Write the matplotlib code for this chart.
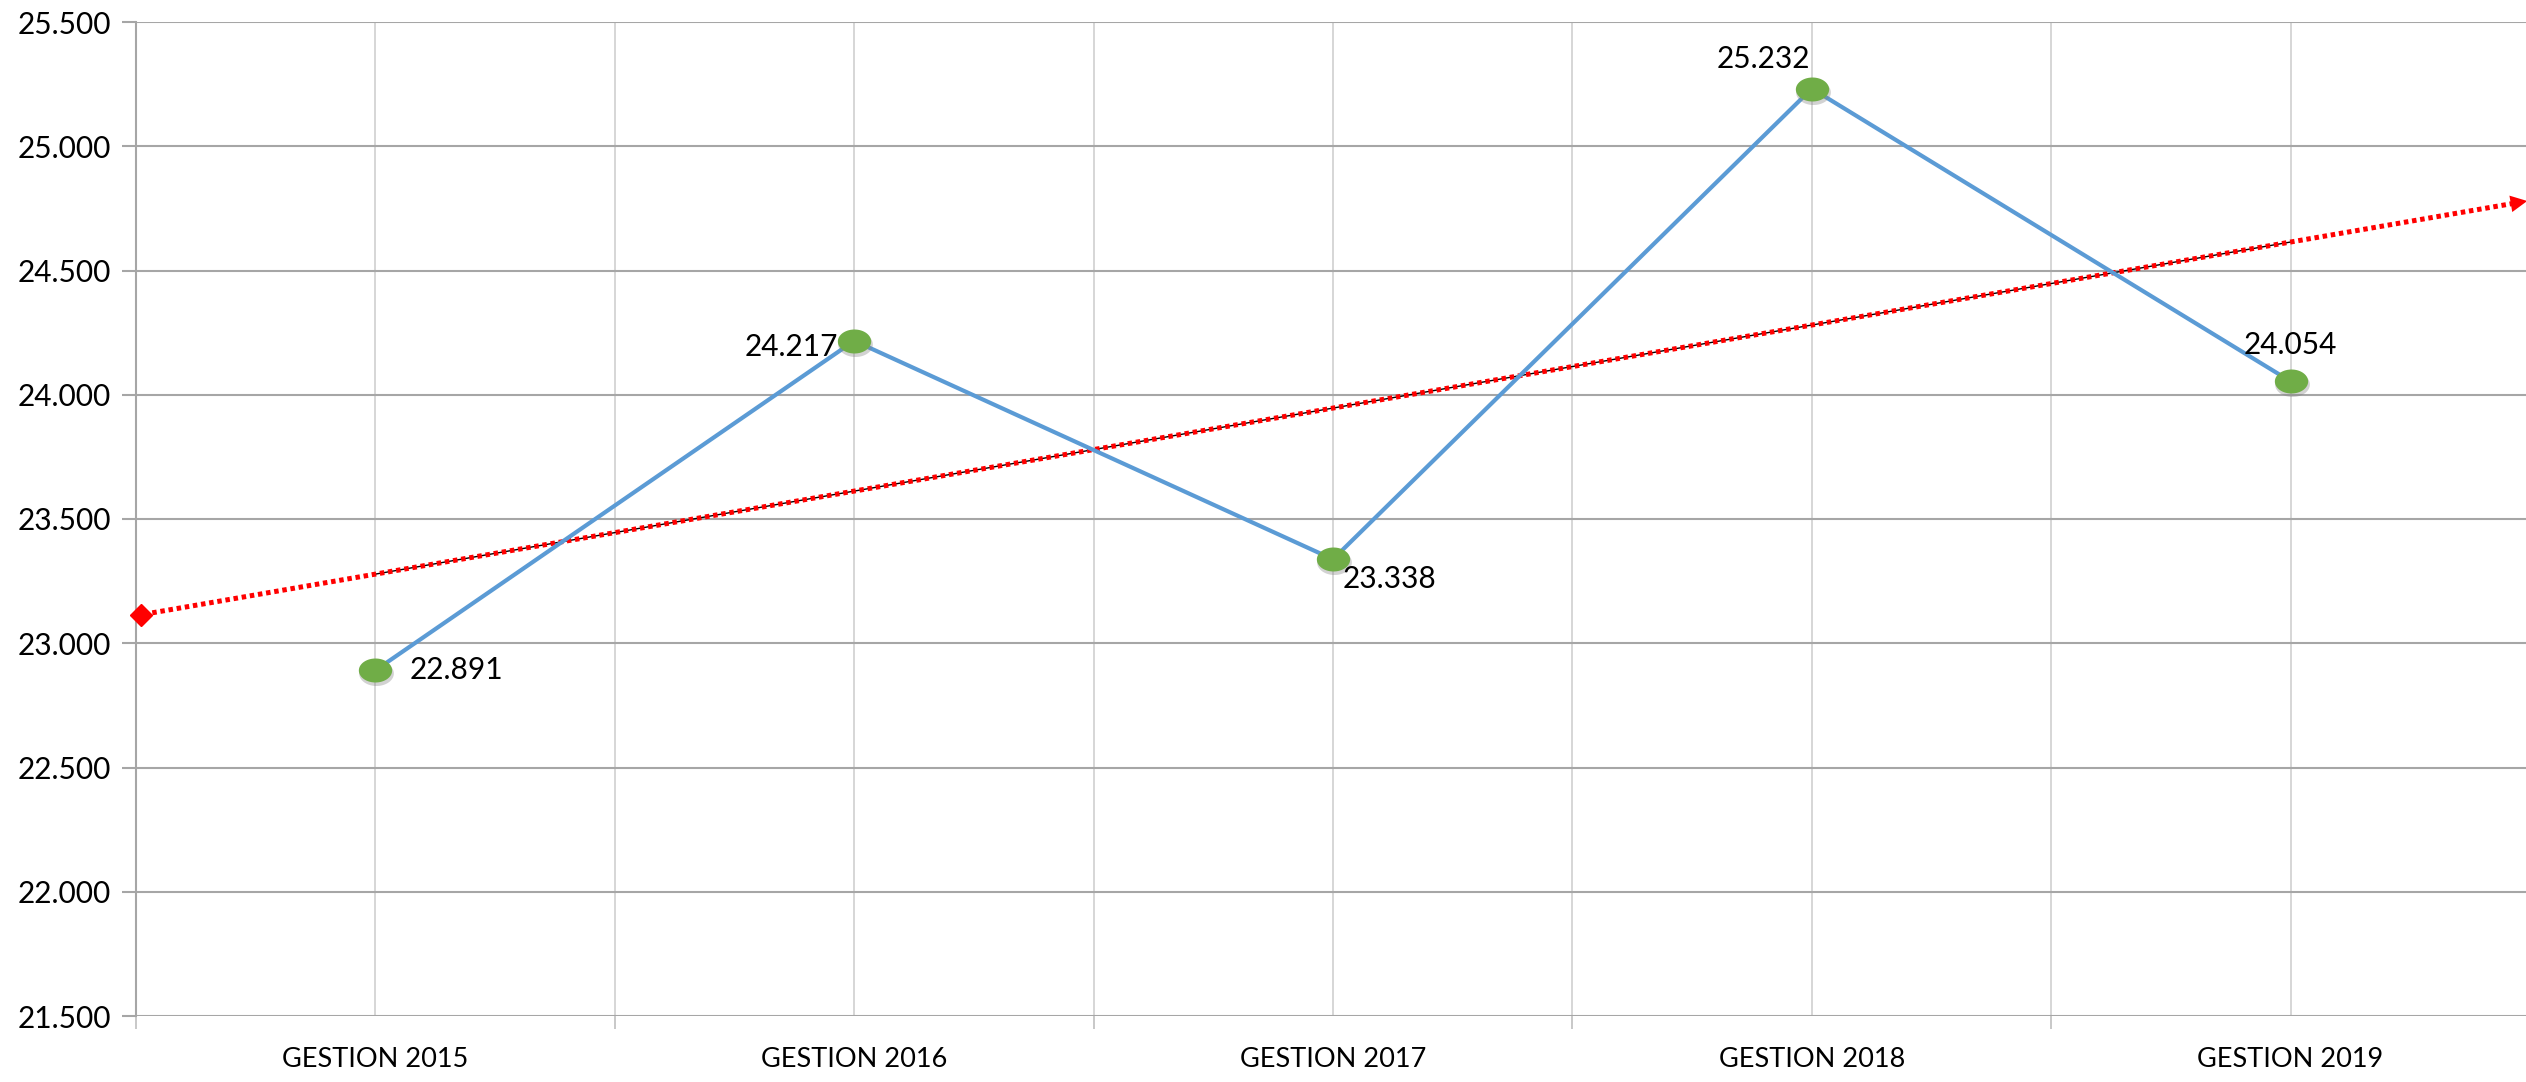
import numpy as np
import matplotlib
matplotlib.use('Agg')
import matplotlib.pyplot as plt
from matplotlib.path import Path
import matplotlib.transforms as mtransforms

# === Data ===
categories = ['GESTION 2015', 'GESTION 2016', 'GESTION 2017', 'GESTION 2018', 'GESTION 2019']
values = [22891, 24217, 23338, 25232, 24054]
value_labels = ['22.891', '24.217', '23.338', '25.232', '24.054']
y_ticks = [21500, 22000, 22500, 23000, 23500, 24000, 24500, 25000, 25500]
y_tick_labels = ['21.500', '22.000', '22.500', '23.000', '23.500', '24.000', '24.500', '25.000', '25.500']

# label offsets in pixels (dx, dy) and alignment
label_pos = [(34, 0, 'left', 'center'),
             (-16, -6, 'right', 'center'),
             (10, -20, 'left', 'center'),
             (-2, 30, 'right', 'center'),
             (0, 36, 'center', 'center')]

plt.rcParams['font.family'] = ['Lato', 'DejaVu Sans']

W, H = 2526, 1082
fig = plt.figure(figsize=(W / 100, H / 100), dpi=100)
left, right, bottom, top = 136, 2530, 1082 - 1016, 1082 - 22
ax = fig.add_axes([left / W, bottom / H, (right - left) / W, (top - bottom) / H])

x = np.arange(1, len(values) + 1)

# grid
ax.set_xlim(0.5, len(values) + 0.5)
ax.set_ylim(21500, 25500)
ax.set_xticks(x)
ax.set_xticklabels(categories, fontsize=19.5)
ax.set_xticks(np.arange(0.5, len(values) + 1, 1.0), minor=True)
ax.set_yticks(y_ticks)
ax.set_yticklabels(y_tick_labels, fontsize=21.5)
ax.tick_params(axis='x', which='major', length=0, pad=22)
ax.tick_params(axis='x', which='minor', length=9, color='#bfbfbf', width=1.2)
ax.tick_params(axis='y', length=10, color='#a6a6a6', width=1.5, pad=8)
ax.grid(axis='x', which='both', color='#d0d0d0', linewidth=1.2, zorder=0)
ax.grid(axis='y', which='major', color='#a6a6a6', linewidth=1.5, zorder=0)
for s in ['top', 'right', 'bottom']:
    ax.spines[s].set_visible(False)
ax.spines['left'].set_color('#a6a6a6')
ax.spines['left'].set_linewidth(1.5)
ax.set_axisbelow(True)

# trend (linear fit)
m, b = np.polyfit(x, values, 1)
ax.plot(x[[0, -1]], m * x[[0, -1]] + b, color='black', linewidth=1.0, zorder=3)
xe = np.array([0.5, len(values) + 0.47])
ax.plot(xe, m * xe + b, color='red', linewidth=3.6, linestyle=(0, (0.9, 0.75)), zorder=4, clip_on=False)
ax.plot(xe[0] + 0.01, m * (xe[0] + 0.01) + b, marker='D', color='red', markersize=11, zorder=5, clip_on=False)
ax.annotate('', xy=(xe[1] + 0.03, m * (xe[1] + 0.03) + b), xytext=(xe[1] - 0.05, m * (xe[1] - 0.05) + b),
            arrowprops=dict(arrowstyle='-|>', color='red', mutation_scale=30, lw=0), annotation_clip=False)

# main series
ax.plot(x, values, color='#5b9bd5', linewidth=3.0, zorder=6)
t = np.linspace(0, 2 * np.pi, 60)
ellipse = Path(np.column_stack([np.cos(t), 0.72 * np.sin(t)]))
shadow = mtransforms.offset_copy(ax.transData, fig=fig, x=1, y=-3, units='dots')
ax.plot(x, values, linestyle='none', marker=ellipse, markersize=25, color='#7f7f7f',
        alpha=0.35, markeredgewidth=0, transform=shadow, zorder=6)
ax.plot(x, values, linestyle='none', marker=ellipse, markersize=24, color='#70ad47',
        markeredgewidth=0, zorder=7)

for xi, v, lab, (dx, dy, ha, va) in zip(x, values, value_labels, label_pos):
    ax.annotate(lab, (xi, v), xytext=(dx, dy), textcoords='offset pixels',
                ha=ha, va=va, fontsize=21.5, color='black', zorder=8)

fig.savefig('out.png', dpi=100)
